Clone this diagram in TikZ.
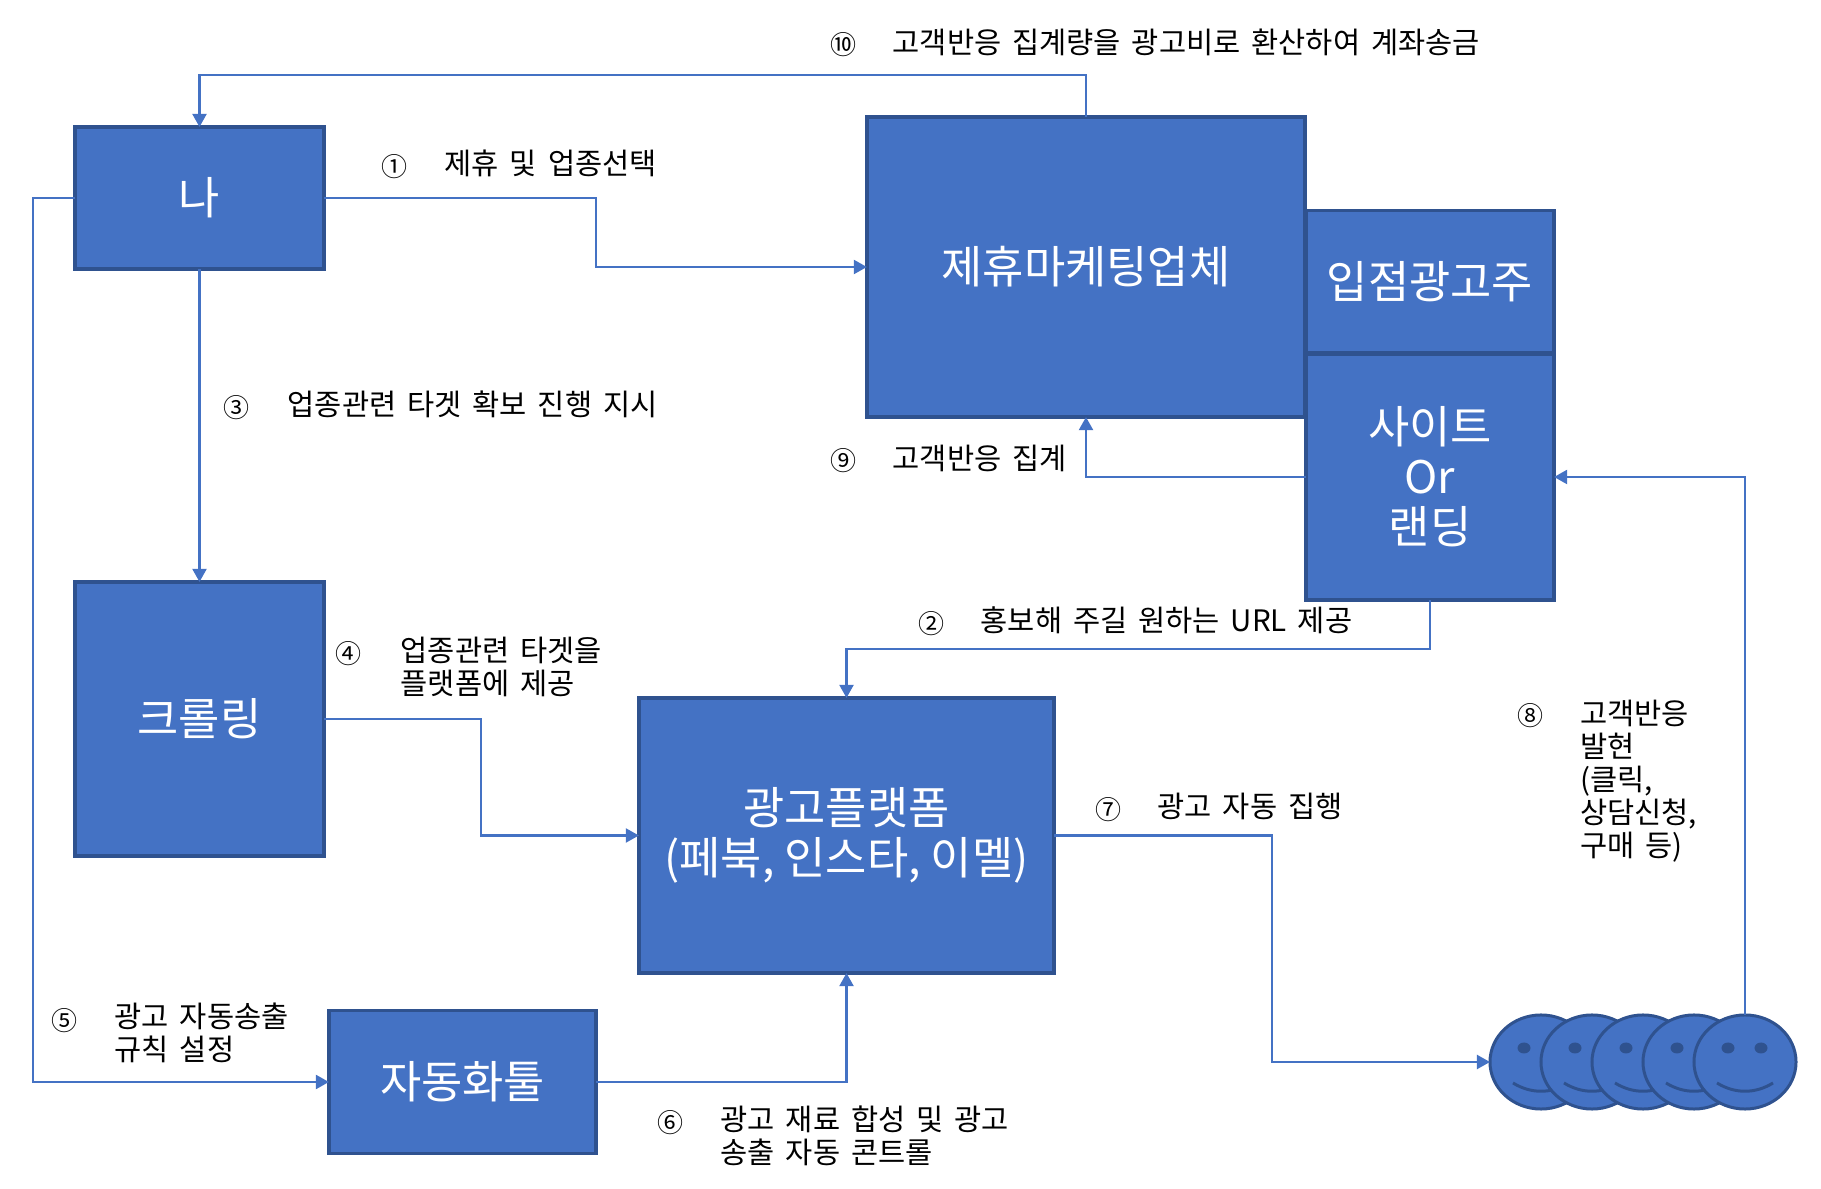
\documentclass[tikz,border=0pt]{standalone}
\usepackage{fontspec}
\setmainfont{Noto Sans CJK KR}
\newfontfamily\labelfont[WordSpace=1.65]{Noto Sans CJK KR}
\usepackage{tikz}
\usetikzlibrary{arrows.meta, shapes.geometric}
\usepackage{xcolor}
\definecolor{boxblue}{RGB}{68,114,196}
\definecolor{edgeblue}{RGB}{47,82,143}
\tikzset{
  boxnode/.style={draw=edgeblue,fill=boxblue,line width=1.05pt,text=white,align=center,inner sep=0pt,outer sep=0pt,font=\fontsize{12.75pt}{14.2pt}\selectfont},
  linkarrow/.style={draw=boxblue,line width=0.6pt,-{Triangle[length=1.3mm,width=1.4mm]}},
  numlabel/.style={inner sep=0pt,font=\fontsize{7.4pt}{9pt}\selectfont},
  textlabel/.style={anchor=west,align=left,inner sep=0pt,font=\labelfont\fontsize{8.4pt}{9.4pt}\selectfont},
  facenode/.style={ellipse,draw=edgeblue,fill=boxblue,line width=0.85pt,minimum width=1.02cm,minimum height=0.94cm,inner sep=0pt,outer sep=0pt},
}
\begin{document}
\begin{tikzpicture}[x=0.01cm,y=-0.01cm]
  \useasboundingbox (0,0) rectangle (1821,1189);
  % Boxes
  \node[boxnode,minimum width=2.49cm,minimum height=1.42cm] (na) at(199.5,198){나};
  \node[boxnode,minimum width=4.38cm,minimum height=3.00cm] (partner) at(1086,267){제휴마케팅업체};
  \node[boxnode,minimum width=2.48cm,minimum height=1.42cm] (advertiser) at(1430,281.5){입점광고주};
  \node[boxnode,minimum width=2.48cm,minimum height=2.46cm] (site) at(1430,477){사이트\\Or\\랜딩};
  \node[boxnode,minimum width=2.49cm,minimum height=2.74cm] (crawl) at(199.5,719){크롤링};
  \node[boxnode,minimum width=4.15cm,minimum height=2.75cm] (platform) at(846.5,835.5){광고플랫폼\\(페북, 인스타, 이멜)};
  \node[boxnode,minimum width=2.67cm,minimum height=1.43cm] (autotool) at(462.5,1082){자동화툴};
  % Customers
  \foreach \i/\fx in {1/1541,2/1592,3/1643,4/1694,5/1745}{
    \node[facenode] (face\i) at(\fx,1062){};
    \fill[edgeblue] (\fx-17,1048) ellipse[x radius=6.5,y radius=5.5];
    \fill[edgeblue] (\fx+16,1048) ellipse[x radius=6.5,y radius=5.5];
    \draw[edgeblue,line width=0.85pt] (\fx-28,1083) .. controls (\fx-10,1094) and (\fx+10,1094) .. (\fx+28,1083);
  }
  % Bend points
  \coordinate (bendA) at(596,230);
  \coordinate (bendB) at(600,75);
  \coordinate (bendC) at(33,600);
  \coordinate (bendD) at(481,780);
  \coordinate (bendE) at(1000,649);
  \coordinate (bendF) at(1272,900);
  % Connectors
  \draw[linkarrow] (na.east) -| (bendA) |- (partner.west);
  \draw[linkarrow] (partner.north) |- (bendB) -| (na.north);
  \draw[linkarrow] (na.south) -- (crawl.north);
  \draw[linkarrow] (na.west) -| (bendC) |- (autotool.west);
  \draw[linkarrow] (crawl.east) -| (bendD) |- (platform.west);
  \draw[linkarrow] (site.south) |- (bendE) -| (platform.north);
  \draw[linkarrow] (site.west) -| (partner.south);
  \draw[linkarrow] (platform.east) -| (bendF) |- (face1.west);
  \draw[linkarrow] (face5.north) |- (site.east);
  \draw[linkarrow] (autotool.east) -| (platform.south);
  % Labels
  \node[numlabel] (num1) at(395,167){①};
  \node[textlabel] (lab1) at(444,163){제휴 및 업종선택};
  \node[numlabel] (num2) at(931,623.5){②};
  \node[textlabel] (lab2) at(980,620){홍보해 주길 원하는 URL 제공};
  \node[numlabel] (num3) at(237,407.5){③};
  \node[textlabel] (lab3) at(287,404){업종관련 타겟 확보 진행 지시};
  \node[numlabel] (num4) at(349,654){④};
  \node[textlabel] (lab4) at(400,667){업종관련 타겟을\\플랫폼에 제공};
  \node[numlabel] (num5) at(65,1021){⑤};
  \node[textlabel] (lab5) at(114,1033){광고 자동송출\\규칙 설정};
  \node[numlabel] (num6) at(671,1123){⑥};
  \node[textlabel] (lab6) at(720,1136){광고 재료 합성 및 광고\\송출 자동 콘트롤};
  \node[numlabel] (num7) at(1108,810){⑦};
  \node[textlabel] (lab7) at(1157,806){광고 자동 집행};
  \node[numlabel] (num8) at(1530,716){⑧};
  \node[textlabel] (lab8) at(1579.5,781){고객반응\\발현\\(클릭,\\상담신청,\\구매 등)};
  \node[numlabel] (num9) at(844,461){⑨};
  \node[textlabel] (lab9) at(892,458){고객반응 집계};
  \node[numlabel] (num10) at(844,45){⑩};
  \node[textlabel] (lab10) at(892,42){고객반응 집계량을 광고비로 환산하여 계좌송금};
\end{tikzpicture}
\end{document}
